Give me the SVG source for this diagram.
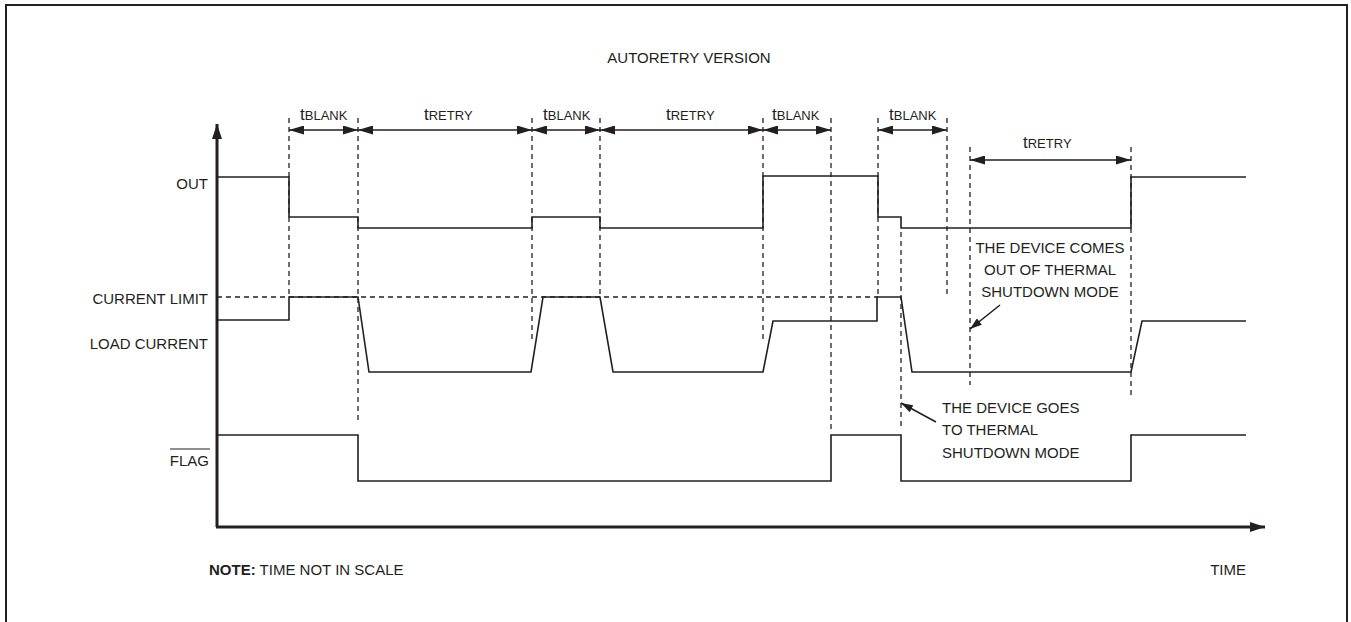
<svg xmlns="http://www.w3.org/2000/svg" width="1351" height="622" viewBox="0 0 1351 622">
<style>
text{font-family:"Liberation Sans",Arial,sans-serif;font-size:15px;fill:#231f20}
.sig{fill:none;stroke:#231f20;stroke-width:1.6;stroke-linejoin:miter}
.dash{fill:none;stroke:#231f20;stroke-width:1.3;stroke-dasharray:5,4}
.dim{fill:none;stroke:#231f20;stroke-width:1.6}
.axis{fill:none;stroke:#231f20;stroke-width:3}
.t{font-size:17px}
.sub{font-size:13px}
</style>
<defs>
<marker id="dimArrow" markerUnits="userSpaceOnUse" markerWidth="15" markerHeight="9" refX="15" refY="4.5" orient="auto-start-reverse" viewBox="0 0 15 9">
<path d="M0,0 L15,4.5 L0,9 z" fill="#231f20"/>
</marker>
<marker id="axisArrow" markerUnits="userSpaceOnUse" markerWidth="15" markerHeight="10" refX="15" refY="5" orient="auto" viewBox="0 0 15 10">
<path d="M0,0 L15,5 L0,10 z" fill="#231f20"/>
</marker>
<marker id="noteArrow" markerUnits="userSpaceOnUse" markerWidth="12" markerHeight="8" refX="12" refY="4" orient="auto" viewBox="0 0 12 8">
<path d="M0,0 L12,4 L0,8 z" fill="#231f20"/>
</marker>
</defs>
<rect width="1351" height="622" fill="#ffffff"/>
<rect id="frame" x="6" y="5" width="1341" height="640" fill="none" stroke="#231f20" stroke-width="2"/>

<g id="title"><text x="689" y="63" text-anchor="middle">AUTORETRY VERSION</text></g>

<g id="axes">
<path class="axis" d="M217,527 V124" marker-end="url(#axisArrow)"/>
<path class="axis" d="M216,527 H1265" marker-end="url(#axisArrow)"/>
</g>

<g id="labels">
<text x="208" y="189" text-anchor="end">OUT</text>
<text x="208" y="304" text-anchor="end">CURRENT LIMIT</text>
<text x="208" y="349" text-anchor="end">LOAD CURRENT</text>
<text x="209" y="466" text-anchor="end">FLAG</text>
<line x1="170" y1="449" x2="210" y2="449" stroke="#231f20" stroke-width="1.2"/>
<text x="209" y="575"><tspan font-weight="bold">NOTE:</tspan> TIME NOT IN SCALE</text>
<text x="1246" y="575" text-anchor="end">TIME</text>
</g>

<g id="connectors">
<path class="dash" d="M217,297 H878"/>
<path class="dash" d="M289,118 V297"/>
<path class="dash" d="M358,118 V423"/>
<path class="dash" d="M532,118 V341"/>
<path class="dash" d="M600,118 V297"/>
<path class="dash" d="M763,118 V341"/>
<path class="dash" d="M831,118 V433"/>
<path class="dash" d="M878,118 V297"/>
<path class="dash" d="M901,232 V430"/>
<path class="dash" d="M947,118 V297"/>
<path class="dash" d="M970,147 V385"/>
<path class="dash" d="M1131,147 V397"/>
<path class="dim" d="M289,130 H358" marker-start="url(#dimArrow)" marker-end="url(#dimArrow)"/>
<path class="dim" d="M358,130 H532" marker-start="url(#dimArrow)" marker-end="url(#dimArrow)"/>
<path class="dim" d="M532,130 H600" marker-start="url(#dimArrow)" marker-end="url(#dimArrow)"/>
<path class="dim" d="M600,130 H763" marker-start="url(#dimArrow)" marker-end="url(#dimArrow)"/>
<path class="dim" d="M763,130 H831" marker-start="url(#dimArrow)" marker-end="url(#dimArrow)"/>
<path class="dim" d="M878,130 H947" marker-start="url(#dimArrow)" marker-end="url(#dimArrow)"/>
<path class="dim" d="M970,160 H1131" marker-start="url(#dimArrow)" marker-end="url(#dimArrow)"/>
<path class="dim" d="M1000,305 L970,329" stroke-width="1.4" marker-end="url(#noteArrow)"/>
<path class="dim" d="M936,422 L901,403" stroke-width="1.4" marker-end="url(#noteArrow)"/>
</g>

<g id="dim-labels">
<text x="300" y="120"><tspan class="t">t</tspan><tspan class="sub">BLANK</tspan></text>
<text x="424" y="120"><tspan class="t">t</tspan><tspan class="sub">RETRY</tspan></text>
<text x="543" y="120"><tspan class="t">t</tspan><tspan class="sub">BLANK</tspan></text>
<text x="666" y="120"><tspan class="t">t</tspan><tspan class="sub">RETRY</tspan></text>
<text x="772" y="120"><tspan class="t">t</tspan><tspan class="sub">BLANK</tspan></text>
<text x="889" y="120"><tspan class="t">t</tspan><tspan class="sub">BLANK</tspan></text>
<text x="1023" y="148"><tspan class="t">t</tspan><tspan class="sub">RETRY</tspan></text>
</g>

<g id="out-signal">
<path class="sig" d="M217,177 H289 V217 H358 V228 H532 V217 H600 V228 H763 V176 H878 V217 H901 V228 H1131 V177 H1246"/>
</g>
<g id="load-current">
<path class="sig" d="M217,320 H289 V297 H358 L369,372 H531 L543,297 H600 L613,372 H763 L773,321 H877 V297 H901 L912,372 H1131 L1142,321 H1246"/>
</g>
<g id="flag-signal">
<path class="sig" d="M217,435 H358 V481 H831 V435 H901 V481 H1131 V435 H1246"/>
</g>

<g id="note-out-of-shutdown">
<text x="1050" y="253" text-anchor="middle">THE DEVICE COMES</text>
<text x="1050" y="275" text-anchor="middle">OUT OF THERMAL</text>
<text x="1050" y="297" text-anchor="middle">SHUTDOWN MODE</text>
</g>
<g id="note-to-shutdown">
<text x="942" y="413">THE DEVICE GOES</text>
<text x="942" y="435">TO THERMAL</text>
<text x="942" y="458">SHUTDOWN MODE</text>
</g>
</svg>
